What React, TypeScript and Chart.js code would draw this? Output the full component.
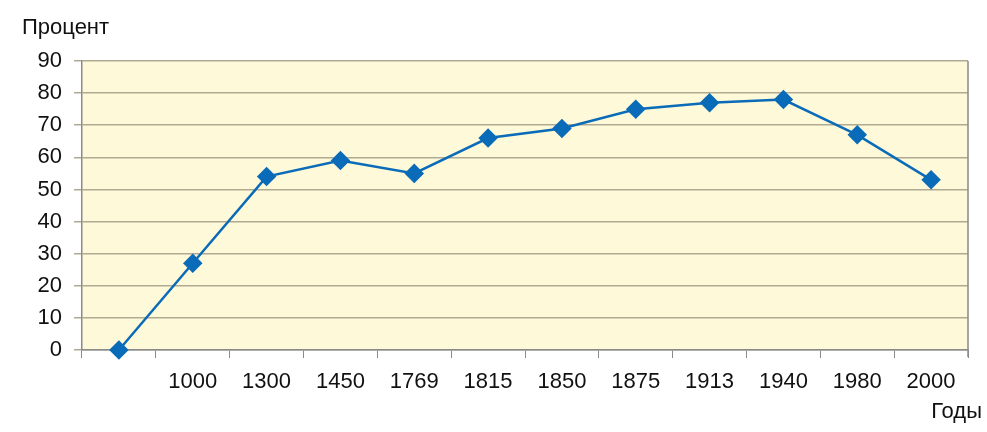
import React, { useEffect, useRef } from "react";
import { Chart, registerables } from "chart.js";

Chart.register(...registerables);

const categories = ["", "1000", "1300", "1450", "1769", "1815", "1850", "1875", "1913", "1940", "1980", "2000"];
const percentValues = [0, 27, 54, 59, 55, 66, 69, 75, 77, 78, 67, 53];
const yAxisTitle = "Процент";
const xAxisTitle = "Годы";

const FONT = "'Liberation Sans', Arial, Helvetica, sans-serif";

const decorPlugin = {
  id: "decor",
  beforeDraw(chart: any) {
    const { ctx, chartArea } = chart;
    ctx.save();
    ctx.fillStyle = "#FEF9D9";
    ctx.fillRect(chartArea.left, chartArea.top, chartArea.right - chartArea.left, chartArea.bottom - chartArea.top);
    ctx.restore();
  },
  afterDraw(chart: any) {
    const { ctx, chartArea } = chart;
    ctx.save();
    ctx.strokeStyle = "#8a8a8a";
    ctx.lineWidth = 1.5;
    ctx.beginPath();
    ctx.moveTo(chartArea.right, chartArea.top);
    ctx.lineTo(chartArea.right, chartArea.bottom + 7);
    ctx.stroke();
    ctx.fillStyle = "#111";
    ctx.font = `22px ${FONT}`;
    ctx.textBaseline = "middle";
    ctx.textAlign = "left";
    ctx.fillText(yAxisTitle, 22, 28);
    ctx.textAlign = "right";
    ctx.fillText(xAxisTitle, chartArea.right + 14, 412);
    ctx.restore();
  },
};

export default function App() {
  const ref = useRef<HTMLCanvasElement>(null);
  useEffect(() => {
    if (!ref.current) return;
    const chart = new Chart(ref.current, {
      type: "line",
      data: {
        labels: categories,
        datasets: [
          {
            data: percentValues,
            borderColor: "#0A6BB8",
            backgroundColor: "#0A6BB8",
            borderWidth: 2.5,
            pointStyle: "rectRot",
            pointRadius: 8,
            pointHoverRadius: 8,
            tension: 0,
            clip: false,
          },
        ],
      },
      options: {
        animation: false,
        responsive: false,
        maintainAspectRatio: false,
        layout: { padding: { left: 0, top: 61, right: 19, bottom: 0 } },
        plugins: { legend: { display: false }, tooltip: { enabled: false }, title: { display: false } },
        scales: {
          x: {
            offset: true,
            afterFit: (s: any) => {
              s.height = 82;
            },
            grid: {
              offset: true,
              drawOnChartArea: false,
              tickLength: 8,
              color: "#8a8a8a",
              lineWidth: 1,
            },
            border: { color: "#8a8a8a", width: 1.5 },
            ticks: {
              color: "#111",
              font: { family: FONT, size: 22 },
              padding: 11,
              maxRotation: 0,
              autoSkip: false,
            },
          },
          y: {
            min: 0,
            max: 90,
            afterFit: (s: any) => {
              s.width = 82;
            },
            grid: {
              color: "#B0A994",
              lineWidth: 1.5,
              tickLength: 8,
            },
            border: { color: "#8a8a8a", width: 1.5 },
            ticks: {
              stepSize: 10,
              color: "#111",
              font: { family: FONT, size: 22 },
              padding: 12,
            },
          },
        },
      },
      plugins: [decorPlugin],
    });
    return () => chart.destroy();
  }, []);
  return (
    <div style={{ position: "fixed", left: 0, top: 0, width: 987, height: 432, background: "#fff" }}>
      <canvas ref={ref} width={987} height={432} style={{ width: 987, height: 432 }} />
    </div>
  );
}
